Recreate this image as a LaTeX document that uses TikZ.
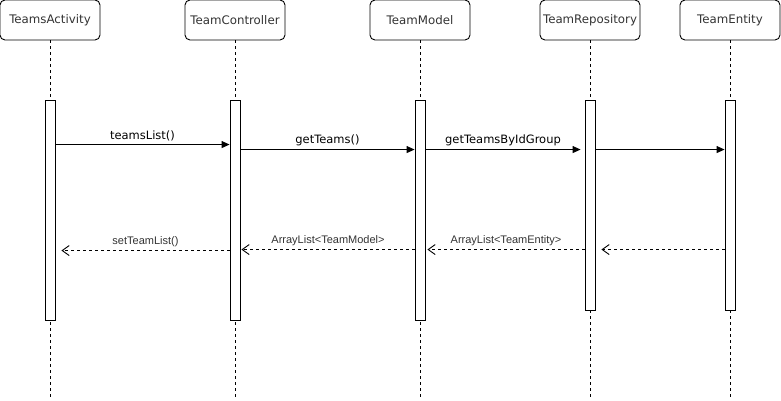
\documentclass[tikz,border=0pt]{standalone}
\usepackage{fontspec}
\setmainfont{DejaVu Sans}
\newfontfamily\retfont{Liberation Sans}
\usetikzlibrary{positioning,arrows.meta}

\tikzset{
  head/.style={draw, rounded corners=5pt, minimum width=100pt, minimum height=40pt,
    inner sep=0pt, font=\fontsize{11.8}{14}\selectfont, text=black!80},
  bar/.style={draw, fill=white, minimum width=10pt, inner sep=0pt},
  life/.style={dash pattern=on 3pt off 3pt, line width=0.8pt},
  call/.style={-{Triangle[length=8pt,width=7pt]}},
  ret/.style={dash pattern=on 3pt off 3pt, -{Straight Barb[length=7pt,width=10pt]}},
  msg/.style={font=\fontsize{11.5}{13}\selectfont, inner sep=3pt},
  retmsg/.style={font=\retfont\fontsize{11}{12}\selectfont, text=black!80, inner sep=3pt}
}

\begin{document}
\begin{tikzpicture}[x=1pt, y=-1pt, line width=0.9pt]
\useasboundingbox (0,0) rectangle (781,401);

\node[head] (H0) at (50,20) {TeamsActivity};
\node[head] (H1) at (235,20) {TeamController};
\node[head] (H2) at (420,20) {TeamModel};
\node[head] (H3) at (590,20) {TeamRepository};
\node[head] (H4) at (730,20) {TeamEntity};

\coordinate (L0) at (50,398);
\coordinate (L1) at (235,398);
\coordinate (L2) at (420,398);
\coordinate (L3) at (590,398);
\coordinate (L4) at (730,398);

\draw[life]
	(H0) -- (L0)
	(H1) -- (L1)
	(H2) -- (L2)
	(H3) -- (L3)
	(H4) -- (L4)
;

\node[bar, minimum height=220pt] (B0) at (50,210) {};
\node[bar, minimum height=220pt] (B1) at (235,210) {};
\node[bar, minimum height=220pt] (B2) at (420,210) {};
\node[bar, minimum height=210pt] (B3) at (590,205) {};
\node[bar, minimum height=210pt] (B4) at (730,205) {};

% calls
\draw[call] ([yshift=-45pt]B0.north east) -- node[above, msg] {teamsList()} ([yshift=-45pt]B1.north west);
\draw[call] ([yshift=-50pt]B1.north east) -- node[above, msg] {getTeams()} ([yshift=-50pt]B2.north west);
\draw[call] ([yshift=-50pt]B2.north east) -- node[above, msg] {getTeamsByIdGroup} ([yshift=-50pt,xshift=-4pt]B3.north west);
\draw[call] ([yshift=-50pt]B3.north east) -- ([yshift=-50pt]B4.north west);

% returns
\draw[ret] ([yshift=-150pt]B4.north west) -- ([yshift=-150pt,xshift=6pt]B3.north east);
\draw[ret] ([yshift=-150pt]B3.north west) -- node[above, retmsg] {ArrayList<TeamEntity>} ([yshift=-150pt,xshift=2pt]B2.north east);
\draw[ret] ([yshift=-150pt]B2.north west) -- node[above, retmsg] {ArrayList<TeamModel>} ([yshift=-150pt,xshift=1pt]B1.north east);
\draw[ret] ([yshift=-151pt]B1.north west) -- node[above, retmsg] {setTeamList()} ([yshift=-151pt,xshift=6pt]B0.north east);
\end{tikzpicture}
\end{document}
